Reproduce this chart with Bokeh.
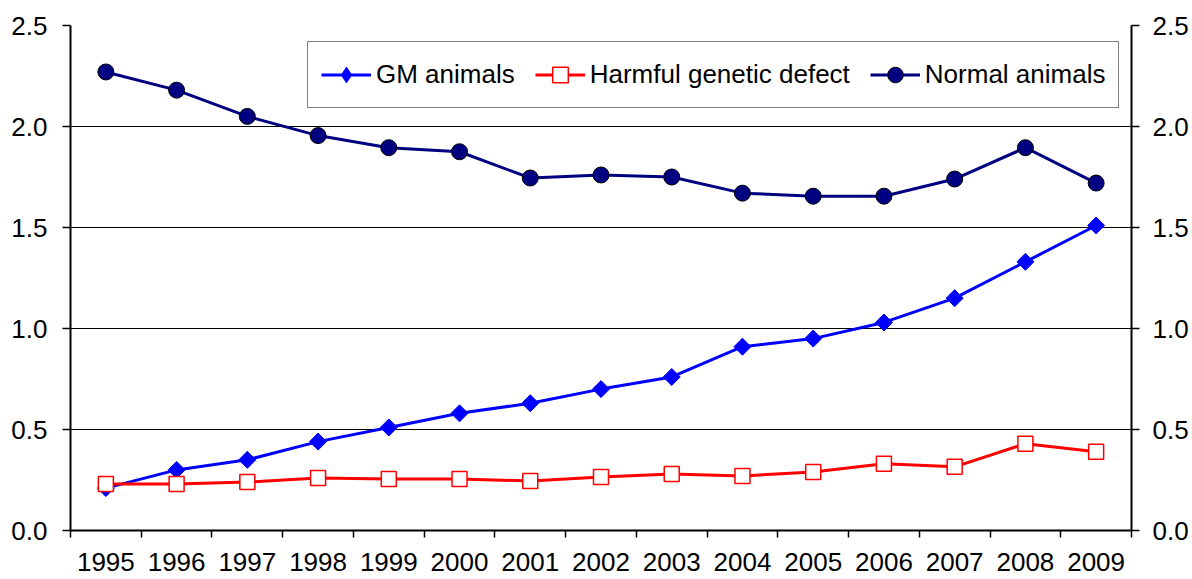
import math
from bokeh.plotting import figure
from bokeh.models import Range1d, LinearAxis, FixedTicker, PrintfTickFormatter, Legend, LegendItem
from bokeh.embed import file_html
from bokeh.resources import INLINE

years = [1995, 1996, 1997, 1998, 1999, 2000, 2001, 2002, 2003, 2004, 2005, 2006, 2007, 2008, 2009]
year_labels = [str(y) for y in years]
gm_animals = [0.21, 0.30, 0.35, 0.44, 0.51, 0.58, 0.63, 0.70, 0.76, 0.91, 0.95, 1.03, 1.15, 1.33, 1.51]
harmful = [0.23, 0.23, 0.24, 0.26, 0.255, 0.255, 0.245, 0.265, 0.28, 0.27, 0.29, 0.33, 0.315, 0.43, 0.39]
normal = [2.27, 2.18, 2.05, 1.955, 1.895, 1.875, 1.745, 1.76, 1.75, 1.67, 1.655, 1.655, 1.74, 1.895, 1.72]
y_ticks = [0.0, 0.5, 1.0, 1.5, 2.0, 2.5]

FONT = "Liberation Sans"
FS = "26px"

p = figure(width=1192, height=579, output_backend="svg", toolbar_location=None,
           x_range=Range1d(years[0] - 0.5, years[-1] + 0.5), y_range=Range1d(0, 2.5),
           min_border_left=70, min_border_right=61, min_border_top=25, min_border_bottom=49,
           x_axis_location="below")
p.background_fill_color = "white"
p.border_fill_color = "white"
p.outline_line_color = None

# x axis: labels at category centres, tick marks at boundaries
boundaries = [y - 0.5 for y in years] + [years[-1] + 0.5]
xa = p.xaxis[0]
xa.ticker = FixedTicker(ticks=years, minor_ticks=boundaries)
xa.major_label_overrides = {y: l for y, l in zip(years, year_labels)}
xa.major_tick_line_color = None
xa.minor_tick_out = 7
xa.minor_tick_in = 0
xa.minor_tick_line_color = "black"
xa.minor_tick_line_width = 1.5
xa.axis_line_color = "black"
xa.axis_line_width = 2
xa.major_label_text_font = FONT
xa.major_label_text_font_size = FS
xa.major_label_text_color = "black"
xa.major_label_text_line_height = 0.8
xa.major_label_standoff = 15

def style_y(ax):
    ax.ticker = FixedTicker(ticks=y_ticks)
    ax.formatter = PrintfTickFormatter(format="%.1f")
    ax.major_tick_out = 8
    ax.major_tick_in = 0
    ax.major_tick_line_color = "black"
    ax.major_tick_line_width = 1.5
    ax.minor_tick_line_color = None
    ax.axis_line_color = "black"
    ax.axis_line_width = 2
    ax.major_label_text_font = FONT
    ax.major_label_text_font_size = FS
    ax.major_label_text_color = "black"

style_y(p.yaxis[0])
p.yaxis[0].major_label_standoff = 15
ry = LinearAxis()
style_y(ry)
ry.major_label_standoff = 13
p.add_layout(ry, "right")

p.xgrid.grid_line_color = None
p.ygrid.ticker = FixedTicker(ticks=y_ticks)
p.ygrid.grid_line_color = "black"
p.ygrid.grid_line_width = 1

gm_line = p.line(years, gm_animals, line_color="#0000FF", line_width=3)
# diamond key (used by the legend, hidden under the rotated squares in the plot)
gm_key = p.scatter(years, gm_animals, marker="diamond", size=16,
                   fill_color="#0000FF", line_color="#0000FF", line_width=1)
gm_mark = p.scatter(years, gm_animals, marker="square", size=12, angle=math.pi / 4,
                    fill_color="#0000FF", line_color="#0000FF", line_width=1)
h_line = p.line(years, harmful, line_color="#FF0000", line_width=3)
h_mark = p.scatter(years, harmful, marker="square", size=15,
                   fill_color="white", line_color="#FF0000", line_width=1.5)
n_line = p.line(years, normal, line_color="#000080", line_width=3)
n_mark = p.scatter(years, normal, marker="circle", size=16,
                   fill_color="#000080", line_color="black", line_width=1)

legend = Legend(items=[
    LegendItem(label="GM animals", renderers=[gm_line, gm_key]),
    LegendItem(label="Harmful genetic defect", renderers=[h_line, h_mark]),
    LegendItem(label="Normal animals", renderers=[n_line, n_mark]),
], orientation="horizontal", location=(237, 422))
legend.label_text_font = FONT
legend.label_text_font_size = FS
legend.label_text_color = "black"
legend.glyph_width = 50
legend.glyph_height = 39
legend.label_standoff = 5
legend.spacing = 20
legend.padding = 13
legend.margin = 0
legend.border_line_color = "black"
legend.border_line_width = 1
legend.background_fill_color = "white"
legend.background_fill_alpha = 1
p.add_layout(legend, "center")

open("out.html", "w").write(file_html(p, INLINE))
